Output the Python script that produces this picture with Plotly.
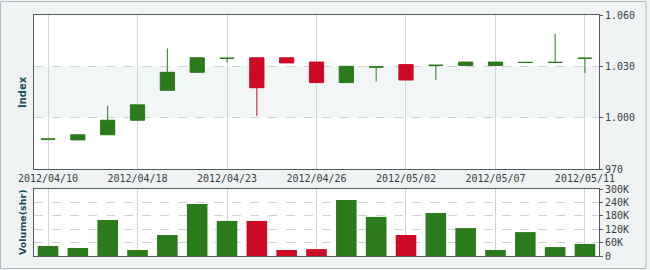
import plotly.graph_objects as go

dates = ["2012/04/10", "2012/04/12", "2012/04/16", "2012/04/18", "2012/04/19",
         "2012/04/20", "2012/04/23", "2012/04/24", "2012/04/25", "2012/04/26",
         "2012/04/27", "2012/05/01", "2012/05/02", "2012/05/03", "2012/05/04",
         "2012/05/07", "2012/05/08", "2012/05/09", "2012/05/11"]
open_ = [987.5, 987.0, 990.0, 998.5, 1016.0, 1026.5, 1034.7, 1035.0, 1035.0, 1032.5,
         1020.5, 1029.6, 1031.0, 1030.6, 1030.5, 1030.5, 1032.3, 1032.3, 1034.7]
high = [987.5, 990.0, 1007.0, 1007.5, 1040.5, 1035.0, 1034.7, 1035.0, 1035.0, 1032.5,
        1030.0, 1029.6, 1031.0, 1030.6, 1032.5, 1032.5, 1032.3, 1049.0, 1034.7]
low = [987.5, 987.0, 990.0, 998.5, 1016.0, 1026.5, 1032.3, 1001.0, 1032.0, 1020.5,
       1020.5, 1021.0, 1022.0, 1022.0, 1030.5, 1030.5, 1032.3, 1032.3, 1026.0]
close = [987.5, 990.0, 998.5, 1007.5, 1026.5, 1035.0, 1034.7, 1017.5, 1032.0, 1020.5,
         1030.0, 1029.6, 1022.0, 1030.6, 1032.5, 1032.5, 1032.3, 1032.3, 1034.7]
volume = [45000, 36000, 161000, 27000, 94000, 233000, 157000, 157000, 27000, 31000,
          251000, 175000, 94000, 193000, 125000, 27000, 107000, 40000, 54000]

price_ticks = [970, 1000, 1030, 1060]
price_labels = ["970", "1.000", "1.030", "1.060"]
vol_ticks = [0, 60000, 120000, 180000, 240000, 300000]
vol_labels = ["0", "60K", "120K", "180K", "240K", "300K"]
date_ticks = dates[::3]

GREEN = "#2b7a1b"
RED = "#cc0a25"

up = [c >= o for o, c in zip(open_, close)]

fig = go.Figure()

for flag, col in [(True, GREEN), (False, RED)]:
    idx = [i for i in range(len(dates)) if up[i] == flag]
    fig.add_trace(go.Candlestick(
        x=[dates[i] for i in idx],
        open=[open_[i] for i in idx],
        high=[high[i] for i in idx],
        low=[low[i] for i in idx],
        close=[close[i] for i in idx],
        increasing=dict(line=dict(color=col, width=1), fillcolor=col),
        decreasing=dict(line=dict(color=col, width=1), fillcolor=col),
        whiskerwidth=0,
        xaxis="x", yaxis="y", showlegend=False,
    ))

fig.add_trace(go.Bar(
    x=dates, y=volume,
    marker=dict(color=[GREEN if u else RED for u in up], line=dict(width=0)),
    xaxis="x2", yaxis="y2", showlegend=False,
))

font_tick = dict(family="DejaVu Sans Mono", size=10, color="#3a3f42")
axis_common = dict(showline=True, mirror=True, linecolor="#555a5c", linewidth=1,
                   automargin=False)

fig.update_layout(
    width=650, height=270,
    margin=dict(l=34, r=51, t=15, b=14),
    paper_bgcolor="#eff3f4",
    plot_bgcolor="#ffffff",
    boxgap=0.32,
    bargap=0.31,
    xaxis=dict(type="category", categoryorder="array", categoryarray=dates,
               range=[-0.47, 18.47], anchor="y", domain=[0, 1],
               tickmode="array", tickvals=date_ticks, ticktext=date_ticks,
               showgrid=True, gridcolor="#c9d8dc", gridwidth=1,
               ticks="", tickfont=font_tick, rangeslider=dict(visible=False),
               **axis_common),
    xaxis2=dict(type="category", categoryorder="array", categoryarray=dates,
                range=[-0.47, 18.47], anchor="y2", matches="x", domain=[0, 1],
                tickmode="array", tickvals=date_ticks,
                showgrid=True, gridcolor="#c9d8dc", gridwidth=1,
                showticklabels=False, ticks="", rangeslider=dict(visible=False),
                **axis_common),
    yaxis=dict(domain=[0.361, 1], range=[970, 1060], side="right",
               tickmode="array", tickvals=price_ticks, ticktext=price_labels,
               showgrid=True, gridcolor="#cfd3d5", griddash="dash", gridwidth=1,
               zeroline=False, ticks="outside", ticklen=3, tickcolor="#555a5c",
               tickfont=font_tick, **axis_common),
    yaxis2=dict(domain=[0, 0.278], range=[0, 300000], side="right",
                tickmode="array", tickvals=vol_ticks, ticktext=vol_labels,
                showgrid=True, gridcolor="#cfd3d5", griddash="dash", gridwidth=1,
                zeroline=False, ticks="outside", ticklen=3, tickcolor="#555a5c",
                tickfont=font_tick, **axis_common),
    shapes=[
        dict(type="rect", xref="x domain", yref="y", x0=0, x1=1, y0=1000, y1=1030,
             fillcolor="#f3f6f7", line=dict(width=0), layer="below"),
        dict(type="rect", xref="paper", yref="paper",
             x0=(0.5 - 34) / 565, x1=(646 - 34) / 565,
             y0=(256 - 268.5) / 241, y1=(256 - 1.5) / 241,
             fillcolor="rgba(0,0,0,0)", line=dict(color="#b3babe", width=1),
             layer="below"),
    ],
    annotations=[
        dict(text="<b>Index</b>", xref="paper", yref="paper",
             x=(22 - 34) / 565, y=(256 - 92) / 241, textangle=-90,
             showarrow=False, xanchor="center", yanchor="middle",
             font=dict(family="DejaVu Sans", size=10, color="#1d4f5c")),
        dict(text="<b>Volume(shr)</b>", xref="paper", yref="paper",
             x=(22 - 34) / 565, y=(256 - 222) / 241, textangle=-90,
             showarrow=False, xanchor="center", yanchor="middle",
             font=dict(family="DejaVu Sans", size=9.5, color="#1d4f5c")),
    ],
)

fig.write_html("out.html")
